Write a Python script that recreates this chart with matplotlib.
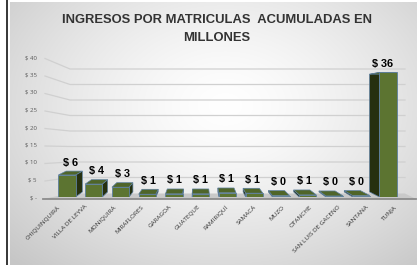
import numpy as np
import matplotlib
matplotlib.use("Agg")
import matplotlib.pyplot as plt
from matplotlib.patches import Polygon

plt.rcParams['font.family'] = ['Open Sans', 'DejaVu Sans']
bold_font = ['Liberation Sans', 'DejaVu Sans']

# datos
municipios = ["CHIQUINQUIRÁ", "VILLA DE LEYVA", "MONIQUIRÁ", "MIRAFLORES",
              "GARAGOA", "GUATEQUE", "RAMIRIQUÍ", "SAMACÁ", "MUZO",
              "OTANCHE", "SAN LUIS DE GACENO", "SANTANA", "TUNJA"]
ingresos = [6.3, 3.7, 2.8, 0.8, 0.9, 0.9, 1.2, 1.1, 0.4, 0.6, 0.3, 0.4, 35.6]
y_ticks = [0, 5, 10, 15, 20, 25, 30, 35, 40]
y_labels = ["$ -", "$ 5", "$ 10", "$ 15", "$ 20", "$ 25", "$ 30", "$ 35", "$ 40"]

W, H = 417, 265
fig = plt.figure(figsize=(W / 100, H / 100), dpi=100)

# fondo con degradado radial
bg = fig.add_axes([0, 0, 1, 1], zorder=0)
bg.set_xlim(0, W)
bg.set_ylim(H, 0)
bg.axis("off")
xx, yy = np.meshgrid(np.arange(10, W), np.arange(2, H))
r = np.sqrt(((xx - 225) / 290.0) ** 2 + ((yy - 105) / 210.0) ** 2)
g = np.clip(1 - 0.21 * r ** 1.4, 0.78, 1)
bg.imshow(np.dstack([g, g, g]), extent=(10, W, H, 2), aspect="auto",
          interpolation="bilinear")
bg.plot([7.5, 7.5], [0, H], color="black", lw=1.1)

# ejes principales
ax = fig.add_axes([53.6 / W, (H - 197) / H, 347.8 / W, 140 / H], zorder=2)
ax.patch.set_alpha(0)
for s in ax.spines.values():
    s.set_visible(False)
ax.set_xlim(-0.5, 12.5)
ax.set_ylim(0, 40)
ax.set_xticks([])
ax.set_yticks(y_ticks)
ax.set_yticklabels(y_labels, fontsize=4.4, color="#595959")
ax.tick_params(axis="y", length=0, pad=12)

# lineas de division (pared del fondo) y piso
for v in y_ticks[1:]:
    yf = H - ax.transData.transform((0, v))[1]
    yb = 193 - v * 3.1
    bg.plot([45, 70, 405], [yf + 1.5, yb, yb], color="#d0d0d0", lw=0.9)
bg.add_patch(Polygon([(43, 199), (70, 193.5), (405, 193.5), (416, 199)],
                     closed=True, facecolor="#c9c9c9", edgecolor="none"))
bg.plot([43, 416], [199.3, 199.3], color="#8c8c8c", lw=1.3)

# barras 3D
x = np.arange(len(municipios))
w = 0.64
front = "#5c7431"
side = "#26300f"
top = "#4f6529"
edge = "#5d7fa0"
ax.bar(x, ingresos, width=w, color=front, edgecolor=edge, lw=0.6, zorder=4)

V = np.array([199.0, H - 105.0])
t = 0.055
to_disp = ax.transData.transform
to_data = ax.transData.inverted().transform


def back(p):
    d = to_disp(p)
    return to_data(d + t * (V - d))


for xi, v in zip(x, ingresos):
    bl, br = (xi - w / 2, 0), (xi + w / 2, 0)
    tl, tr = (xi - w / 2, v), (xi + w / 2, v)
    xc = to_disp((xi, 0))[0]
    if xc < V[0]:
        pts = [br, tr, back(tr), back(br)]
    else:
        pts = [bl, tl, back(tl), back(bl)]
    ax.add_patch(Polygon(pts, closed=True, facecolor=side, edgecolor=edge,
                         lw=0.5, zorder=3))
    ax.add_patch(Polygon([tl, tr, back(tr), back(tl)], closed=True,
                         facecolor=top, edgecolor=edge, lw=0.5, zorder=3))
    shift = t * (V[0] - xc) / 2
    ytop = max(v, back((xi, v))[1])
    ax.annotate(f"$ {round(v)}", xy=(xi, ytop), xytext=(shift * 0.72, 2.5),
                textcoords="offset points", ha="center", va="bottom",
                fontsize=7.8, fontweight="bold", color="black", zorder=5,
                family=bold_font)

# etiquetas de categoria
for xi, name in zip(x, municipios):
    lx = 6.25 + (xi - 6.25) * 1.05
    ax.annotate(name, xy=(lx, 0), xytext=(0, -6.5), textcoords="offset points",
                rotation=45, rotation_mode="anchor", ha="right", va="center",
                fontsize=4.6, color="#333333", annotation_clip=False)

fig.text(0.52, (H - 20) / H, "INGRESOS POR MATRICULAS  ACUMULADAS EN",
         ha="center", va="center", fontsize=9.4, fontweight="bold",
         color="#333333", family=bold_font)
fig.text(0.52, (H - 38) / H, "MILLONES", ha="center", va="center",
         fontsize=9.4, fontweight="bold", color="#333333", family=bold_font)

fig.savefig("out.png", dpi=100)
